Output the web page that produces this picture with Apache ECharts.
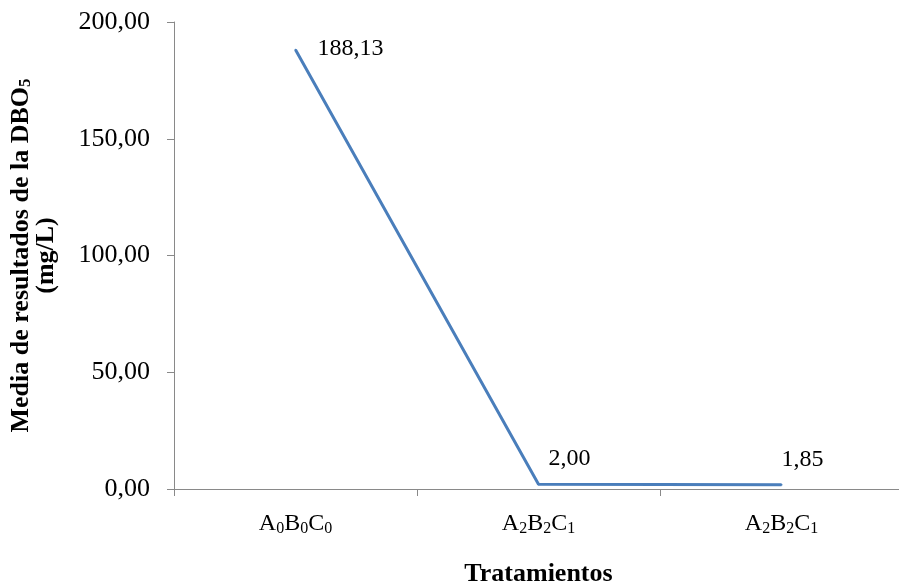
<!DOCTYPE html>
<html>
<head>
<meta charset="utf-8">
<script src="https://cdn.jsdelivr.net/npm/echarts@6/dist/echarts.min.js"></script>
<style>
  html, body { margin: 0; padding: 0; background: #fff; }
  #chart { width: 899px; height: 588px; }
</style>
</head>
<body>
<div id="chart"></div>
<script>
// Treatment codes: letter + subscript digit pairs
const treatments = [
  [['A', '0'], ['B', '0'], ['C', '0']],
  [['A', '2'], ['B', '2'], ['C', '1']],
  [['A', '2'], ['B', '2'], ['C', '1']]
];
// Mean BOD5 per treatment (mg/L)
const dboMeans = [188.13, 2.00, 1.85];
// Value axis range
const yMin = 0;
const yMax = 200;
const yStep = 50;

// Where each value label sits relative to its point [dx, dy]
const labelOffsets = [[23, 0], [11, -25], [1, -24]];

const serif = '"Liberation Serif", "DejaVu Serif", serif';
const comma = v => v.toFixed(2).replace('.', ',');

const categories = treatments.map((t, i) => String(i));
const catLabel = idx => treatments[idx].map(([l, s]) => l + '{s|' + s + '}').join('');

const seriesData = dboMeans.map((v, i) => ({
  value: v,
  label: { position: labelOffsets[i] }
}));

const chart = echarts.init(document.getElementById('chart'), null, { renderer: 'canvas' });
chart.setOption({
  backgroundColor: '#ffffff',
  animation: false,
  grid: { left: 174, top: 22, bottom: 99, width: 729, containLabel: false, outerBoundsMode: 'none' },
  xAxis: {
    type: 'category',
    data: categories,
    boundaryGap: true,
    axisLine: { lineStyle: { color: '#898989', width: 1 } },
    axisTick: { show: true, interval: 0, length: 7, lineStyle: { color: '#898989' } },
    axisLabel: {
      interval: 0,
      hideOverlap: false,
      margin: 22,
      color: '#000',
      fontFamily: serif,
      fontSize: 24,
      formatter: (v) => catLabel(Number(v)),
      rich: { s: { fontFamily: serif, fontSize: 16, verticalAlign: 'bottom', padding: [10, 0, 0, 0], color: '#000' } }
    },
    name: 'Tratamientos',
    nameLocation: 'middle',
    nameGap: 72,
    nameTextStyle: { fontFamily: serif, fontSize: 26, fontWeight: 'bold', color: '#000' }
  },
  yAxis: {
    type: 'value',
    min: yMin,
    max: yMax,
    interval: yStep,
    splitLine: { show: false },
    axisLine: { show: true, lineStyle: { color: '#898989', width: 1 } },
    axisTick: { show: true, length: 7, lineStyle: { color: '#898989' } },
    axisLabel: {
      margin: 24,
      color: '#000',
      fontFamily: serif,
      fontSize: 26,
      formatter: v => comma(v)
    },
    name: 'Media de resultados de la DBO{s|5}\n(mg/L)',
    nameLocation: 'middle',
    nameRotate: 90,
    nameGap: 115,
    nameTextStyle: {
      fontFamily: serif, fontSize: 26, fontWeight: 'bold', color: '#000',
      align: 'center', lineHeight: 25,
      rich: { s: { fontFamily: serif, fontSize: 17, fontWeight: 'bold', color: '#000', verticalAlign: 'bottom', padding: [8, 0, 0, 0] } }
    }
  },
  series: [{
    type: 'line',
    data: seriesData,
    symbol: 'circle',
    symbolSize: 2,
    itemStyle: { color: '#4a7ebb' },
    lineStyle: { color: '#4a7ebb', width: 3 },
    label: {
      show: true,
      align: 'left',
      verticalAlign: 'middle',
      color: '#000',
      fontFamily: serif,
      fontSize: 24,
      formatter: p => comma(p.value)
    }
  }]
});
</script>
</body>
</html>
